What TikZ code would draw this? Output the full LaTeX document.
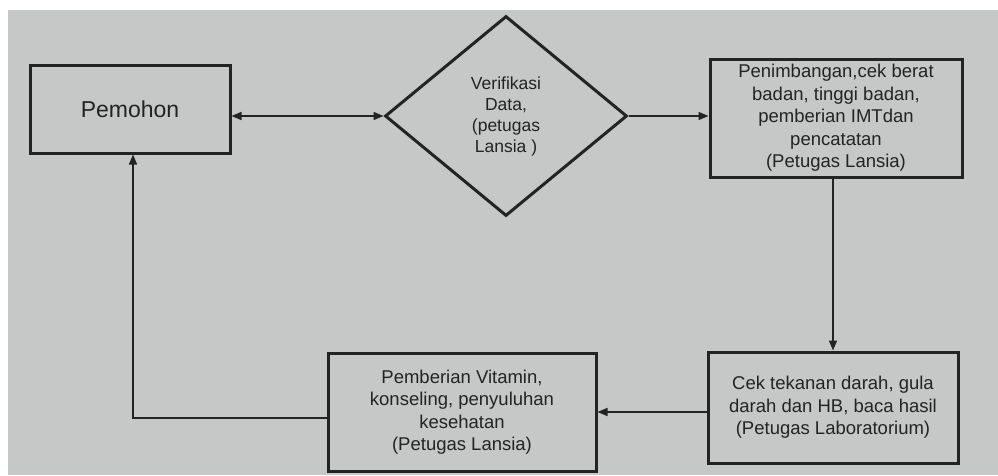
\documentclass[tikz,border=0pt]{standalone}
\usepackage{fontspec}
\setmainfont{Liberation Sans}
\usetikzlibrary{shapes.geometric,arrows.meta}
\definecolor{paper}{RGB}{197,200,198}
\definecolor{ink}{RGB}{35,35,35}
\tikzset{
  procbox/.style={draw=ink, line width=3pt, text=ink, align=center, inner sep=0pt,
    font=\fontsize{18.5}{22.5}\selectfont},
  decbox/.style={draw=ink, line width=3pt, text=ink, align=center, shape=diamond, inner sep=0pt,
    font=\fontsize{17.5}{21}\selectfont},
  conn/.style={draw=ink, line width=1.6pt, -{Triangle[length=10pt,width=8pt]}},
  biconn/.style={draw=ink, line width=1.6pt, {Triangle[length=10pt,width=8pt]}-{Triangle[length=10pt,width=8pt]}}
}
\begin{document}
\begin{tikzpicture}[x=1pt,y=-1pt]
\useasboundingbox (0,0) rectangle (998,475);
\fill[white] (0,0) rectangle (998,475);
\fill[paper] (8,10) rectangle (998,475);

\node[procbox, minimum width=200pt, minimum height=88pt, font=\fontsize{23}{27}\selectfont] (pemohon) at (130,109) {Pemohon};
\node[decbox, minimum width=242pt, minimum height=200pt] (verif) at (506,116) {Verifikasi\\Data,\\(petugas\\Lansia )};
\node[procbox, minimum width=252pt, minimum height=118pt] (timbang) at (836,118) {Penimbangan,cek berat\\badan, tinggi badan,\\pemberian IMTdan\\pencatatan\\(Petugas Lansia)};
\node[procbox, minimum width=250pt, minimum height=111pt] (cek) at (833,407.5) {Cek tekanan darah, gula\\darah dan HB, baca hasil\\(Petugas Laboratorium)};
\node[procbox, minimum width=268pt, minimum height=118pt] (vitamin) at (462,412) {Pemberian Vitamin,\\konseling, penyuluhan\\kesehatan\\(Petugas Lansia)};

\draw[biconn] (pemohon.east |- verif.west) -- (verif.west);
\draw[conn] (verif.east) -- (verif.east -| timbang.west);
\draw[conn] (timbang.south -| cek.north) -- (cek.north);
\draw[conn] (cek.west |- vitamin.east) -- (vitamin.east);
\draw[conn] ([yshift=-6pt]vitamin.west) -| ([xshift=3pt]pemohon.south);
\end{tikzpicture}
\end{document}
